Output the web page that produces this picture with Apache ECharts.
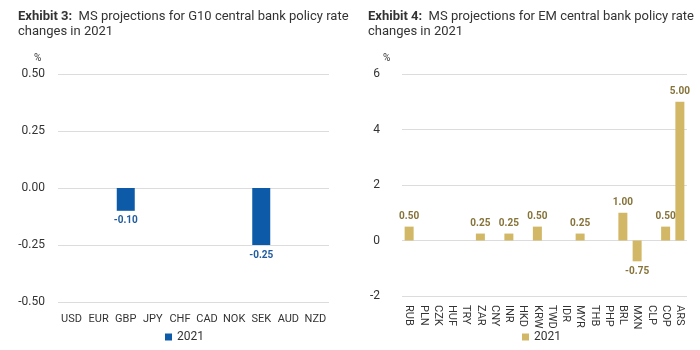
<!DOCTYPE html>
<html>
<head>
<meta charset="utf-8">
<script src="https://cdn.jsdelivr.net/npm/echarts@6/dist/echarts.min.js"></script>
<style>
  html, body { margin: 0; padding: 0; background: #fff; }
  #wrap { width: 700px; height: 350px; position: relative; }
  #g10, #em { position: absolute; top: 0; width: 350px; height: 350px; }
  #g10 { left: 0; }
  #em { left: 350px; }
</style>
</head>
<body>
<div id="wrap"><div id="g10"></div><div id="em"></div></div>
<script>
// G10 data
const g10Currencies = ['USD', 'EUR', 'GBP', 'JPY', 'CHF', 'CAD', 'NOK', 'SEK', 'AUD', 'NZD'];
const g10Changes = [null, null, -0.10, null, null, null, null, -0.25, null, null];

// EM data
const emCurrencies = ['RUB', 'PLN', 'CZK', 'HUF', 'TRY', 'ZAR', 'CNY', 'INR', 'HKD', 'KRW',
  'TWD', 'IDR', 'MYR', 'THB', 'PHP', 'BRL', 'MXN', 'CLP', 'COP', 'ARS'];
const emChanges = [0.50, null, null, null, null, 0.25, null, 0.25, null, 0.50,
  null, null, 0.25, null, null, 1.00, -0.75, null, 0.50, 5.00];

const FONT = 'Roboto';

function makeOption(cfg) {
  return {
    animation: false,
    textStyle: { fontFamily: FONT },
    title: [
      {
        text: '{b|' + cfg.exhibit + '}  ' + cfg.title,
        left: 13, top: 4,
        textStyle: {
          fontFamily: FONT, fontSize: 13, fontWeight: 'normal', color: '#333',
          lineHeight: 15,
          rich: { b: { fontFamily: FONT, fontSize: 13, fontWeight: 'bold', color: '#333', lineHeight: 15 } }
        }
      },
      {
        text: '%', left: cfg.pctX, top: 48,
        textStyle: { fontFamily: FONT, fontSize: 10, fontWeight: 'normal', color: '#333' }
      }
    ],
    legend: {
      data: ['2021'], left: cfg.legendLeft, top: 331, padding: 0,
      itemWidth: 7, itemHeight: 7, icon: 'rect',
      textStyle: { fontFamily: FONT, fontSize: 12, color: '#333' }
    },
    grid: cfg.grid,
    xAxis: {
      type: 'category', data: cfg.cats,
      axisLine: { show: false }, axisTick: { show: false },
      axisLabel: {
        interval: 0, rotate: cfg.rotate, margin: cfg.labelMargin,
        fontFamily: FONT, fontSize: 11, color: '#333'
      }
    },
    yAxis: {
      type: 'value', min: cfg.min, max: cfg.max, interval: cfg.interval,
      axisLine: { show: false }, axisTick: { show: false },
      splitLine: { lineStyle: { color: '#dcdcdc', width: 1 } },
      axisLabel: {
        margin: cfg.yMargin, fontFamily: FONT, fontSize: 12, color: '#333',
        formatter: cfg.yFmt
      }
    },
    series: [{
      name: '2021', type: 'bar', data: cfg.values,
      barWidth: cfg.barWidth,
      itemStyle: { color: cfg.color },
      label: {
        show: true, position: 'outside', distance: 5,
        fontFamily: FONT, fontSize: 10, fontWeight: 'bold', color: cfg.labelColor,
        formatter: p => p.value == null ? '' : p.value.toFixed(2)
      }
    }]
  };
}

const g10Chart = echarts.init(document.getElementById('g10'));
g10Chart.setOption(makeOption({
  exhibit: 'Exhibit 3:',
  title: 'MS projections for G10 central bank policy rate\nchanges in 2021',
  pctX: 29, legendLeft: 165,
  grid: { left: 58, right: 21, top: 74, bottom: 48 },
  cats: g10Currencies, values: g10Changes,
  rotate: 0, labelMargin: 12,
  min: -0.5, max: 0.5, interval: 0.25, yMargin: 13,
  yFmt: v => v.toFixed(2),
  barWidth: 18, color: '#0d5aa8', labelColor: '#1f5b9e'
}));

const emChart = echarts.init(document.getElementById('em'));
emChart.setOption(makeOption({
  exhibit: 'Exhibit 4:',
  title: 'MS projections for EM central bank policy rate\nchanges in 2021',
  pctX: 28, legendLeft: 172,
  grid: { left: 52, right: 13, top: 74, bottom: 54 },
  cats: emCurrencies, values: emChanges,
  rotate: -90, labelMargin: 9,
  min: -2, max: 6, interval: 2, yMargin: 22,
  yFmt: v => String(v),
  barWidth: 9, color: '#d2b767', labelColor: '#86733a'
}));
</script>
</body>
</html>
